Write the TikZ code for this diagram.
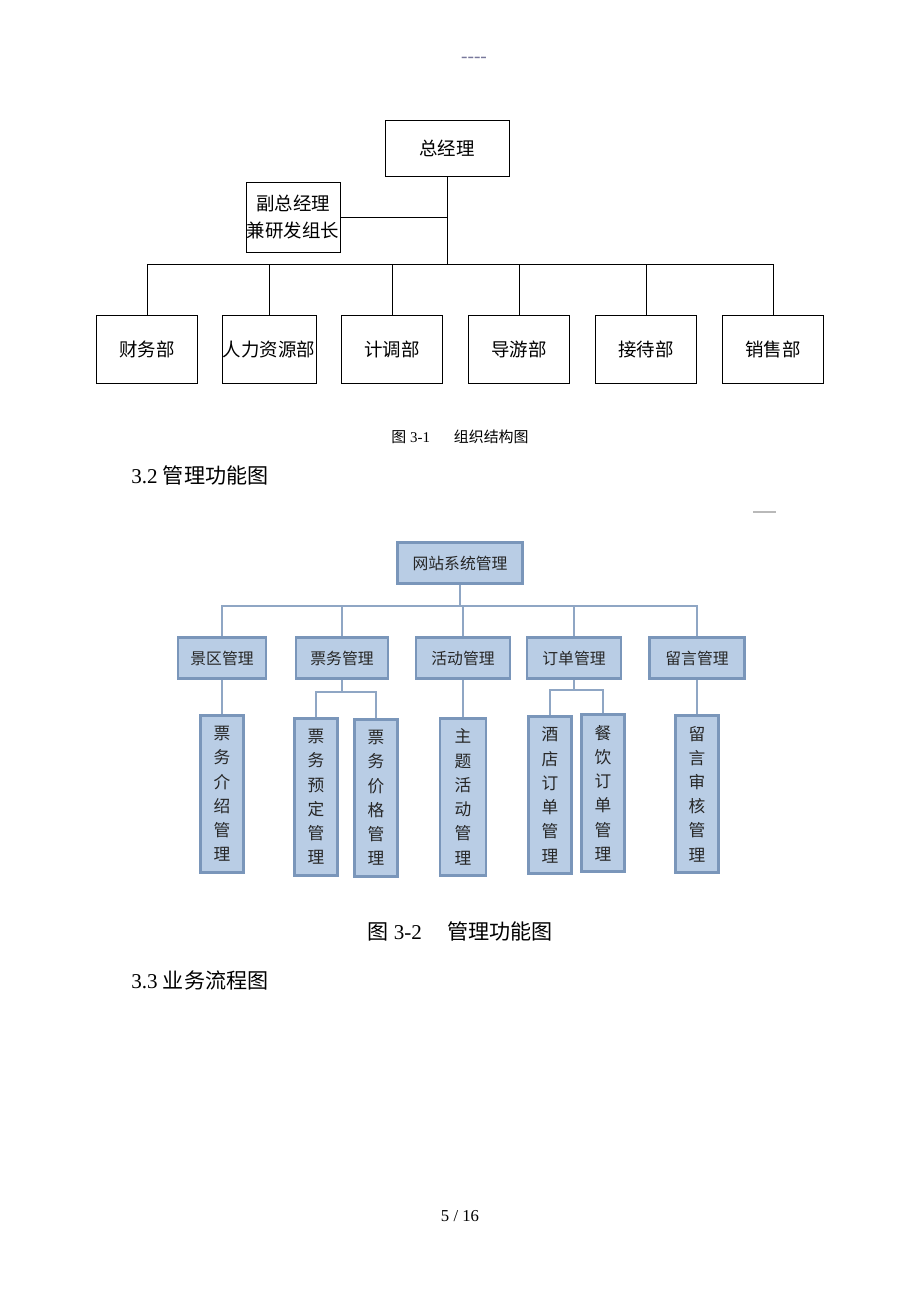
\documentclass[tikz,border=0pt]{standalone}
\usepackage{fontspec}
\setmainfont{Liberation Serif}
\newfontfamily\cjk{Noto Sans CJK SC}
\newcommand\zh[1]{{\cjk #1}}
\usetikzlibrary{positioning}

\definecolor{boxfill}{RGB}{185,205,229}
\definecolor{boxline}{RGB}{122,150,186}
\definecolor{linkblue}{RGB}{143,166,196}

\tikzset{
  orgbox/.style={draw, line width=0.45pt, font=\cjk\fontsize{10.5}{15.5}\selectfont, inner sep=0pt, align=center},
  deptbox/.style={orgbox, minimum width=2.02cm, minimum height=1.36cm},
  orgline/.style={line width=0.45pt},
  funbox/.style={draw=boxline, fill=boxfill, line width=1.2pt, font=\cjk\fontsize{9}{13.8}\selectfont, text=black!85, minimum height=0.82cm, inner sep=1pt},
  vbox/.style={funbox, font=\cjk\fontsize{9.5}{13.8}\selectfont, minimum width=0.86cm, minimum height=3.14cm, align=center},
  funline/.style={draw=linkblue, line width=1.4pt},
}

\begin{document}
\begin{tikzpicture}[x=0.02cm, y=-0.02cm]
	\useasboundingbox (0,0) rectangle (920,1302);
	
	% page header
	\node (hdr) at (474,60) [text={rgb,255:red,120;green,120;blue,155}, font=\fontsize{11}{12}\selectfont] {-{}-{}-{}-};
	
	% organisation chart
	\node (gm) at (447,148) [orgbox, minimum width=2.48cm, minimum height=1.12cm] {总经理};
	\node (vgm) at (293,217) [orgbox, minimum width=1.88cm, minimum height=1.4cm] {副总经理\\兼研发组长};
	
	\node (fin) at (147,349) [deptbox] {财务部};
	\node (hr) at (269,349) [deptbox, minimum width=1.88cm] {人力资源部};
	\node (plan) at (392,349) [deptbox] {计调部};
	\node (guide) at (519,349) [deptbox] {导游部};
	\node (recv) at (646,349) [deptbox] {接待部};
	\node (sale) at (773,349) [deptbox] {销售部};
	
	\coordinate (bus1) at (447,264);
	\draw[orgline] (gm) -- (bus1);
	\draw[orgline] (vgm) -- (vgm -| gm);
	\foreach \d in {fin, hr, plan, guide, recv, sale}
		\draw[orgline] (bus1) -| (\d);
	
	\node (cap1) at (460,437) [font=\fontsize{8.5}{10}\selectfont] {\zh{图} 3-1\hspace{1.6em}\zh{组织结构图}};
	\node (sec2) at (131,475) [anchor=west, inner sep=0pt, font=\fontsize{12}{14}\selectfont] {3.2 \zh{管理功能图}};
	\draw[gray!55, line width=0.8pt] (753,512) -- (776,512);
	
	% function chart
	\node (root) at (460,563) [funbox, minimum width=2.5cm] {网站系统管理};
	
	\node (scene) at (222,658) [funbox, minimum width=1.76cm] {景区管理};
	\node (ticket) at (342,658) [funbox, minimum width=1.84cm] {票务管理};
	\node (event) at (463,658) [funbox, minimum width=1.88cm] {活动管理};
	\node (order) at (574,658) [funbox, minimum width=1.88cm] {订单管理};
	\node (msg) at (697,658) [funbox, minimum width=1.9cm] {留言管理};
	
	\node (intro) at (222,794) [vbox] {票\\务\\介\\绍\\管\\理};
	\node (book) at (316,797) [vbox] {票\\务\\预\\定\\管\\理};
	\node (price) at (376,798) [vbox] {票\\务\\价\\格\\管\\理};
	\node (theme) at (463,797) [vbox, minimum width=0.92cm] {主\\题\\活\\动\\管\\理};
	\node (hotel) at (550,795) [vbox] {酒\\店\\订\\单\\管\\理};
	\node (food) at (603,793) [vbox] {餐\\饮\\订\\单\\管\\理};
	\node (audit) at (697,794) [vbox] {留\\言\\审\\核\\管\\理};
	
	\coordinate (bus2) at (460,606);
	\coordinate (fork1) at (342,692);
	\coordinate (fork2) at (574,690);
	\draw[funline] (root) -- (bus2);
	\foreach \c in {scene, ticket, event, order, msg}
		\draw[funline] (bus2) -| (\c);
	\draw[funline] (scene) -- (intro);
	\draw[funline] (ticket) -- (fork1);
	\draw[funline] (fork1) -| (book);
	\draw[funline] (fork1) -| (price);
	\draw[funline] (event) -- (theme);
	\draw[funline] (order) -- (fork2);
	\draw[funline] (fork2) -| (hotel);
	\draw[funline] (fork2) -| (food);
	\draw[funline] (msg) -- (audit);
	
	\node (cap2) at (460,931) [font=\fontsize{12}{14}\selectfont] {\zh{图} 3-2\hspace{1.2em}\zh{管理功能图}};
	\node (sec3) at (131,980) [anchor=west, inner sep=0pt, font=\fontsize{12}{14}\selectfont] {3.3 \zh{业务流程图}};
	\node (page) at (460,1216) [font=\fontsize{9.5}{11}\selectfont] {5 / 16};
\end{tikzpicture}
\end{document}
